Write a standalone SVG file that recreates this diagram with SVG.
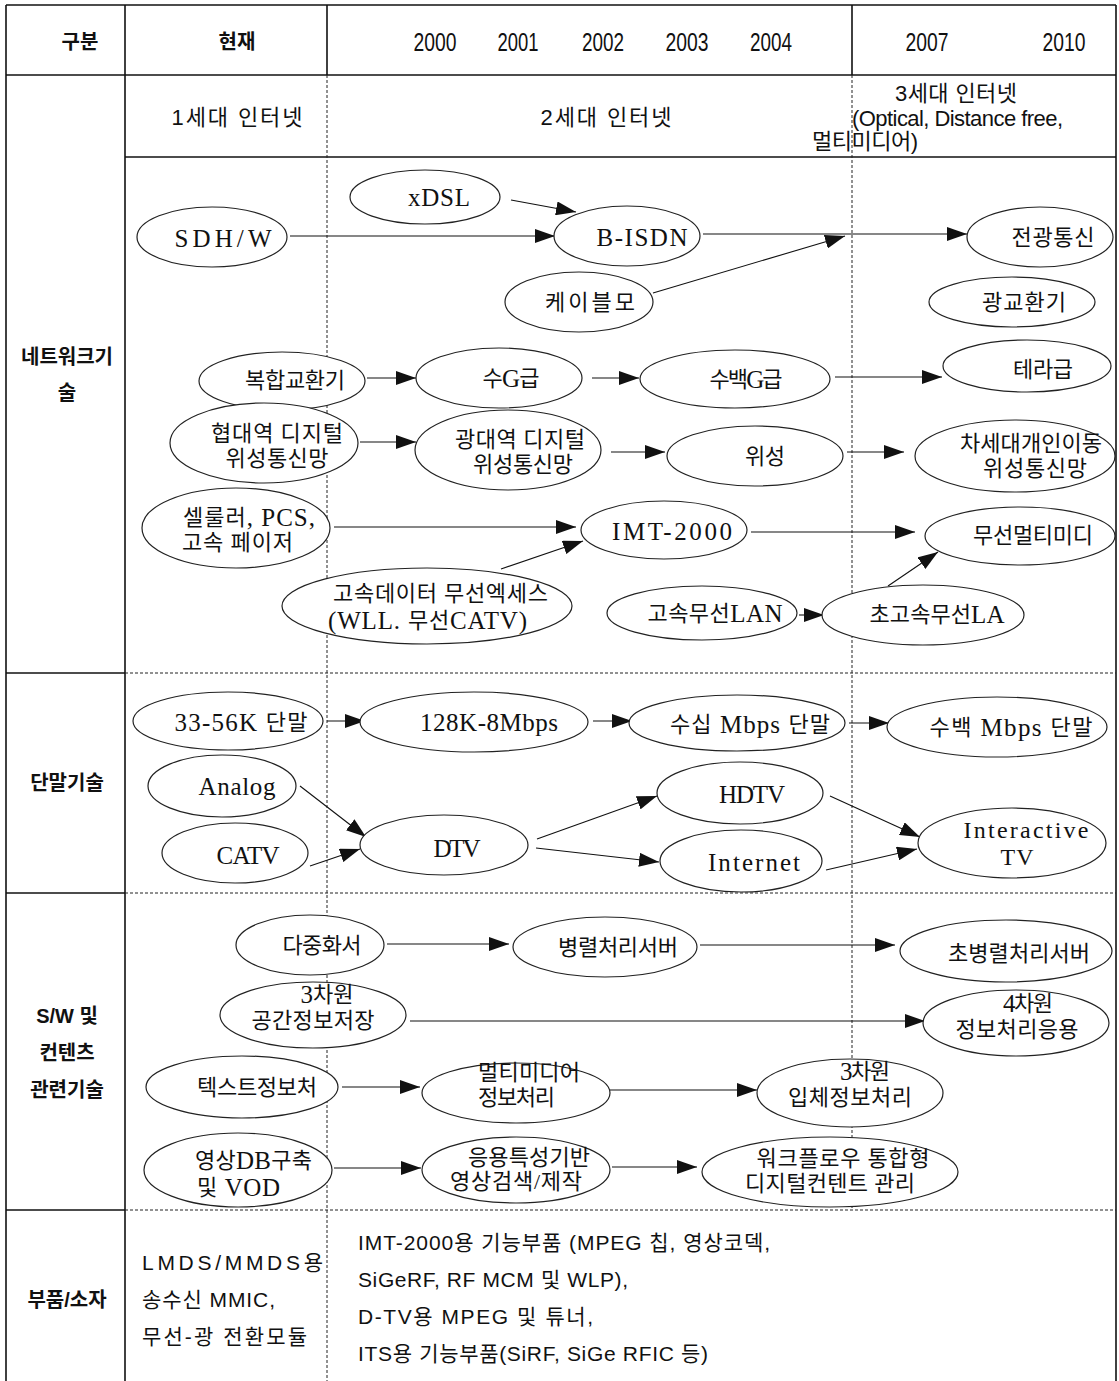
<svg xmlns="http://www.w3.org/2000/svg" width="1119" height="1381" viewBox="0 0 1119 1381">
<style>
.solid{stroke:#111;stroke-width:1.6;fill:none}
.dash{stroke:#222;stroke-width:1;stroke-dasharray:3 2;fill:none}
.nd ellipse{fill:#fff;stroke:#222;stroke-width:1.2}
.nd text{font-family:"Liberation Serif","Noto Sans CJK KR",serif;font-size:22px;fill:#111;text-anchor:middle;dominant-baseline:central}
.nd text.st{text-anchor:start}
.nd .L{font-size:25px}
.hd{font-family:"Liberation Sans","Noto Sans CJK KR",sans-serif;font-size:22px;fill:#111;text-anchor:middle;dominant-baseline:central}
.yr{font-family:"Liberation Sans","Noto Sans CJK KR",sans-serif;font-size:26px;fill:#111;text-anchor:middle;dominant-baseline:central}
.lb{font-family:"Liberation Sans","Noto Sans CJK KR",sans-serif;font-size:20px;font-weight:bold;fill:#111;text-anchor:middle;dominant-baseline:central}
.pt{font-family:"Liberation Sans","Noto Sans CJK KR",sans-serif;font-size:21px;fill:#111;dominant-baseline:central}
#connectors line{stroke:#111;stroke-width:1.1;marker-end:url(#ah)}
</style>
<defs>
<marker id="ah" viewBox="0 0 20 14" refX="20" refY="7" markerWidth="20" markerHeight="14" markerUnits="userSpaceOnUse" orient="auto"><path d="M0,0 L20,7 L0,14 z" fill="#111"/></marker>
</defs>
<rect width="1119" height="1381" fill="#fff"/>
<g id="table">
<line class="solid" x1="6" y1="5" x2="1116" y2="5"/>
<line class="solid" x1="6" y1="5" x2="6" y2="1381"/>
<line class="solid" x1="1116" y1="5" x2="1116" y2="1381"/>
<line class="solid" x1="125" y1="5" x2="125" y2="1381"/>
<line class="solid" x1="327" y1="5" x2="327" y2="75"/>
<line class="solid" x1="852" y1="5" x2="852" y2="75"/>
<line class="solid" x1="6" y1="75" x2="1116" y2="75"/>
<line class="solid" x1="125" y1="157" x2="1116" y2="157"/>
<line class="dash" x1="327" y1="75" x2="327" y2="1381"/>
<line class="dash" x1="852" y1="75" x2="852" y2="1210"/>
<line class="solid" x1="6" y1="673" x2="125" y2="673"/>
<line class="dash" x1="125" y1="673" x2="1116" y2="673"/>
<line class="solid" x1="6" y1="893" x2="125" y2="893"/>
<line class="dash" x1="125" y1="893" x2="1116" y2="893"/>
<line class="solid" x1="6" y1="1210" x2="125" y2="1210"/>
<line class="dash" x1="125" y1="1210" x2="1116" y2="1210"/>
</g>
<g id="header">
<text class="lb" x="80" y="42" font-size="21">구분</text>
<text class="lb" x="237" y="42" font-size="21">현재</text>
<text class="yr" x="435" y="42" textLength="43" lengthAdjust="spacingAndGlyphs">2000</text>
<text class="yr" x="518" y="42" textLength="41" lengthAdjust="spacingAndGlyphs">2001</text>
<text class="yr" x="603" y="42" textLength="42" lengthAdjust="spacingAndGlyphs">2002</text>
<text class="yr" x="687" y="42" textLength="43" lengthAdjust="spacingAndGlyphs">2003</text>
<text class="yr" x="771" y="42" textLength="42" lengthAdjust="spacingAndGlyphs">2004</text>
<text class="yr" x="927" y="42" textLength="43" lengthAdjust="spacingAndGlyphs">2007</text>
<text class="yr" x="1064" y="42" textLength="43" lengthAdjust="spacingAndGlyphs">2010</text>
<text class="hd" x="237" y="117" textLength="131">1세대 인터넷</text>
<text class="hd" x="606" y="117" textLength="131">2세대 인터넷</text>
<text class="hd" x="956" y="93" textLength="122">3세대 인터넷</text>
<text class="hd" x="852" y="118" textLength="211" style="text-anchor:start">(Optical, Distance free,</text>
<text class="hd" x="812" y="141" textLength="106" style="text-anchor:start">멀티미디어)</text>
</g>
<g id="row-labels">
<text class="lb" x="67" y="357">네트워크기</text>
<text class="lb" x="67" y="393">술</text>
<text class="lb" x="67" y="783">단말기술</text>
<text class="lb" x="67" y="1016">S/W 및</text>
<text class="lb" x="67" y="1053">컨텐츠</text>
<text class="lb" x="67" y="1090">관련기술</text>
<text class="lb" x="67" y="1300">부품/소자</text>
</g>
<g id="connectors">
<line x1="511" y1="200" x2="576" y2="212"/>
<line x1="290" y1="236" x2="555" y2="236"/>
<line x1="703" y1="234" x2="967" y2="234"/>
<line x1="653" y1="293" x2="845" y2="236"/>
<line x1="367" y1="378" x2="416" y2="378"/>
<line x1="592" y1="378" x2="639" y2="378"/>
<line x1="835" y1="377" x2="942" y2="377"/>
<line x1="360" y1="442" x2="416" y2="442"/>
<line x1="611" y1="452" x2="665" y2="452"/>
<line x1="847" y1="452" x2="904" y2="452"/>
<line x1="334" y1="527" x2="576" y2="527"/>
<line x1="501" y1="569" x2="583" y2="541"/>
<line x1="751" y1="532" x2="915" y2="532"/>
<line x1="799" y1="615" x2="824" y2="615"/>
<line x1="888" y1="586" x2="938" y2="552"/>
<line x1="327" y1="721" x2="365" y2="721"/>
<line x1="593" y1="721" x2="632" y2="721"/>
<line x1="849" y1="723" x2="889" y2="723"/>
<line x1="300" y1="786" x2="366" y2="837"/>
<line x1="310" y1="866" x2="360" y2="849"/>
<line x1="537" y1="839" x2="657" y2="796"/>
<line x1="536" y1="848" x2="659" y2="862"/>
<line x1="830" y1="796" x2="920" y2="837"/>
<line x1="826" y1="870" x2="917" y2="849"/>
<line x1="387" y1="944" x2="509" y2="944"/>
<line x1="700" y1="945" x2="895" y2="945"/>
<line x1="410" y1="1021" x2="925" y2="1021"/>
<line x1="342" y1="1087" x2="420" y2="1087"/>
<line x1="610" y1="1090" x2="757" y2="1090"/>
<line x1="334" y1="1168" x2="421" y2="1168"/>
<line x1="612" y1="1167" x2="697" y2="1167"/>
</g>
<g id="n-xdsl" class="nd"><ellipse cx="425" cy="197" rx="75" ry="27"/><text class="L" x="439" y="197" textLength="62">xDSL</text></g>
<g id="n-sdhw" class="nd"><ellipse cx="212" cy="237" rx="75" ry="30"/><text class="L" x="223" y="238" textLength="97">SDH/W</text></g>
<g id="n-bisdn" class="nd"><ellipse cx="627" cy="236" rx="73" ry="30"/><text class="L" x="642" y="237" textLength="91">B-ISDN</text></g>
<g id="n-cable" class="nd"><ellipse cx="579" cy="302" rx="74" ry="30"/><text x="590" y="302" textLength="90">케이블모</text></g>
<g id="n-optcomm" class="nd"><ellipse cx="1040" cy="237" rx="73" ry="30"/><text x="1053" y="237" textLength="83">전광통신</text></g>
<g id="n-optswitch" class="nd"><ellipse cx="1012" cy="302" rx="83" ry="25"/><text x="1024" y="302" textLength="84">광교환기</text></g>
<g id="n-tera" class="nd"><ellipse cx="1027" cy="366" rx="84" ry="26"/><text x="1043" y="369" textLength="60">테라급</text></g>
<g id="n-hundredg" class="nd"><ellipse cx="735" cy="379" rx="95" ry="29"/><text x="746" y="379" textLength="73">수백<tspan class="L">G</tspan>급</text></g>
<g id="n-severalg" class="nd"><ellipse cx="499" cy="378" rx="83" ry="30"/><text x="511" y="378" textLength="57">수<tspan class="L">G</tspan>급</text></g>
<g id="n-hybrid" class="nd"><ellipse cx="282" cy="381" rx="83" ry="29"/><text x="295" y="380" textLength="100">복합교환기</text></g>
<g id="n-narrowsat" class="nd"><ellipse cx="264" cy="443" rx="94" ry="40"/><text x="277" y="433" textLength="132">협대역 디지털</text><text x="277" y="458" textLength="103">위성통신망</text></g>
<g id="n-widesat" class="nd"><ellipse cx="508" cy="450" rx="93" ry="40"/><text x="520" y="439" textLength="130">광대역 디지털</text><text x="523" y="464" textLength="100">위성통신망</text></g>
<g id="n-sat" class="nd"><ellipse cx="755" cy="456" rx="88" ry="30"/><text x="765" y="456" textLength="40">위성</text></g>
<g id="n-nextsat" class="nd"><ellipse cx="1015" cy="456" rx="100" ry="36"/><text x="1031" y="443" textLength="142">차세대개인이동</text><text x="1035" y="468" textLength="104">위성통신망</text></g>
<g id="n-cellular" class="nd"><ellipse cx="236" cy="528" rx="94" ry="40"/><text class="st" x="183" y="517" textLength="132">셀룰러<tspan class="L">, PCS,</tspan></text><text class="st" x="182" y="542" textLength="111">고속 페이저</text></g>
<g id="n-imt" class="nd"><ellipse cx="664" cy="530" rx="83" ry="29"/><text class="L" x="672" y="531" textLength="120">IMT-2000</text></g>
<g id="n-wmm" class="nd"><ellipse cx="1020" cy="536" rx="95" ry="29"/><text x="1033" y="535" textLength="120">무선멀티미디</text></g>
<g id="n-hsdata" class="nd"><ellipse cx="427" cy="606" rx="145" ry="38"/><text class="st" x="333" y="593" textLength="215">고속데이터 무선엑세스</text><text class="st" x="328" y="620" textLength="199"><tspan class="L">(WLL. </tspan>무선<tspan class="L">CATV)</tspan></text></g>
<g id="n-wlan" class="nd"><ellipse cx="702" cy="613" rx="95" ry="27"/><text x="715" y="613" textLength="135">고속무선<tspan class="L">LAN</tspan></text></g>
<g id="n-uwlan" class="nd"><ellipse cx="923" cy="615" rx="101" ry="30"/><text x="937" y="614" textLength="135">초고속무선<tspan class="L">LA</tspan></text></g>
<g id="n-3356k" class="nd"><ellipse cx="228" cy="721" rx="95" ry="29"/><text x="241" y="722" textLength="133"><tspan class="L">33-56K </tspan>단말</text></g>
<g id="n-128k" class="nd"><ellipse cx="474" cy="722" rx="114" ry="30"/><text class="L" x="489" y="722" textLength="138">128K-8Mbps</text></g>
<g id="n-tensmbps" class="nd"><ellipse cx="737" cy="723" rx="108" ry="28"/><text x="750" y="724" textLength="160">수십<tspan class="L"> Mbps </tspan>단말</text></g>
<g id="n-hundredsmbps" class="nd"><ellipse cx="997" cy="727" rx="110" ry="30"/><text x="1011" y="727" textLength="163">수백<tspan class="L"> Mbps </tspan>단말</text></g>
<g id="n-analog" class="nd"><ellipse cx="222" cy="786" rx="74" ry="31"/><text class="L" x="237" y="786" textLength="77">Analog</text></g>
<g id="n-catv" class="nd"><ellipse cx="235" cy="853" rx="73" ry="30"/><text class="L" x="248" y="855" textLength="63">CATV</text></g>
<g id="n-dtv" class="nd"><ellipse cx="444" cy="845" rx="84" ry="30"/><text class="L" x="457" y="848" textLength="47">DTV</text></g>
<g id="n-hdtv" class="nd"><ellipse cx="740" cy="793" rx="83" ry="31"/><text class="L" x="752" y="794" textLength="66">HDTV</text></g>
<g id="n-internet" class="nd"><ellipse cx="741" cy="861" rx="81" ry="31"/><text class="L" x="754" y="862" textLength="92">Internet</text></g>
<g id="n-itv" class="nd"><ellipse cx="1012" cy="843" rx="94" ry="35"/><text class="L" x="1026" y="830" textLength="125" style="font-size:24px">Interactive</text><text class="L" x="1017" y="857" textLength="33" style="font-size:24px">TV</text></g>
<g id="n-mux" class="nd"><ellipse cx="310" cy="945" rx="74" ry="30"/><text x="322" y="945" textLength="79">다중화서</text></g>
<g id="n-parallel" class="nd"><ellipse cx="605" cy="947" rx="92" ry="30"/><text x="618" y="947" textLength="120">병렬처리서버</text></g>
<g id="n-uparallel" class="nd"><ellipse cx="1006" cy="951" rx="106" ry="31"/><text x="1019" y="953" textLength="142">초병렬처리서버</text></g>
<g id="n-3dspace" class="nd"><ellipse cx="313" cy="1015" rx="93" ry="33"/><text x="327" y="994" textLength="53"><tspan class="L">3</tspan>차원</text><text x="313" y="1020" textLength="123">공간정보저장</text></g>
<g id="n-4d" class="nd"><ellipse cx="1016" cy="1023" rx="93" ry="33"/><text x="1028" y="1003" textLength="50"><tspan class="L">4</tspan>차원</text><text x="1017" y="1029" textLength="123">정보처리응용</text></g>
<g id="n-textinfo" class="nd"><ellipse cx="242" cy="1087" rx="96" ry="31"/><text x="257" y="1087" textLength="120">텍스트정보처</text></g>
<g id="n-mminfo" class="nd"><ellipse cx="516" cy="1093" rx="94" ry="30"/><text class="st" x="478" y="1072" textLength="102">멀티미디어</text><text class="st" x="478" y="1097" textLength="77">정보처리</text></g>
<g id="n-3dsolid" class="nd"><ellipse cx="850" cy="1093" rx="93" ry="34"/><text x="865" y="1071" textLength="50"><tspan class="L">3</tspan>차원</text><text x="850" y="1097" textLength="124">입체정보처리</text></g>
<g id="n-videodb" class="nd"><ellipse cx="238" cy="1170" rx="94" ry="37"/><text class="st" x="195" y="1160" textLength="117">영상<tspan class="L">DB</tspan>구축</text><text class="st" x="197" y="1187" textLength="83">및<tspan class="L"> VOD</tspan></text></g>
<g id="n-appsearch" class="nd"><ellipse cx="516" cy="1170" rx="94" ry="33"/><text x="529" y="1157" textLength="122">응용특성기반</text><text x="516" y="1181" textLength="132">영상검색/제작</text></g>
<g id="n-workflow" class="nd"><ellipse cx="830" cy="1172" rx="128" ry="35"/><text x="843" y="1158" textLength="173">워크플로우 통합형</text><text x="830" y="1183" textLength="170">디지털컨텐트 관리</text></g>
<g id="parts">
<text class="pt" x="142" y="1262" textLength="181">LMDS/MMDS용</text>
<text class="pt" x="142" y="1299" textLength="133">송수신 MMIC,</text>
<text class="pt" x="142" y="1336" textLength="165">무선-광 전환모듈</text>
<text class="pt" x="358" y="1242" textLength="412">IMT-2000용 기능부품 (MPEG 칩, 영상코덱,</text>
<text class="pt" x="358" y="1279" textLength="270">SiGeRF, RF MCM 및 WLP),</text>
<text class="pt" x="358" y="1316" textLength="235">D-TV용 MPEG 및 튜너,</text>
<text class="pt" x="358" y="1353" textLength="350">ITS용 기능부품(SiRF, SiGe RFIC 등)</text>
</g>
</svg>
